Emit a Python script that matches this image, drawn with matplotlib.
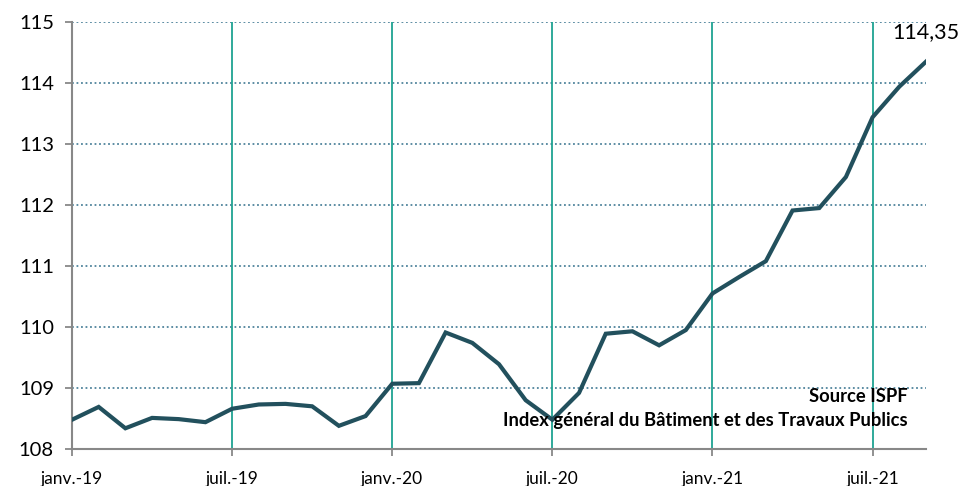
import numpy as np
import matplotlib.pyplot as plt

plt.rcParams['font.family'] = ['Lato', 'DejaVu Sans']

# monthly index, janv.-19 .. sept.-21
values = [108.48, 108.69, 108.34, 108.51, 108.49, 108.44,
          108.66, 108.73, 108.74, 108.70, 108.38, 108.54,
          109.07, 109.08, 109.91, 109.74, 109.39, 108.80,
          108.48, 108.92, 109.89, 109.93, 109.70, 109.95,
          110.55, 110.82, 111.08, 111.91, 111.95, 112.46,
          113.44, 113.94, 114.35]
tick_pos = [0, 6, 12, 18, 24, 30]
tick_labels = ["janv.-19", "juil.-19", "janv.-20", "juil.-20", "janv.-21", "juil.-21"]
yticks = [108, 109, 110, 111, 112, 113, 114, 115]

x = np.arange(len(values))

fig = plt.figure(figsize=(9.69, 4.86), dpi=100)
ax = fig.add_axes([0.0743, 0.0761, 0.8813, 0.8786])

for yv in yticks[1:]:
    ax.axhline(yv, color="#4f849c", ls=(0, (1, 1.5)), lw=1.3, zorder=1)
for xv in tick_pos[1:]:
    ax.axvline(xv, color="#1fa392", lw=1.3, zorder=1)

ax.plot(x, values, color="#22505d", lw=3, solid_joinstyle="miter", zorder=3)

ax.set_xlim(0, len(values) - 1)
ax.set_ylim(108, 115)
ax.set_xticks(tick_pos)
ax.set_xticklabels(tick_labels, fontsize=12.5)
ax.set_yticks(yticks)
ax.tick_params(axis="y", labelsize=14.5, length=5, color="#888888", width=1.3, pad=8)
ax.tick_params(axis="x", length=5, color="#888888", width=1.3, pad=11)

for s in ["top", "right"]:
    ax.spines[s].set_visible(False)
for s in ["left", "bottom"]:
    ax.spines[s].set_color("#888888")
    ax.spines[s].set_linewidth(1.5)

ax.text(len(values) - 1, 114.84, "114,35", fontsize=15.5,
        ha="center", va="center")
ax.text(0.979, 0.122, "Source ISPF", transform=ax.transAxes, fontsize=13.2,
        fontweight="bold", ha="right", va="center", zorder=4)
ax.text(0.979, 0.066, "Index général du Bâtiment et des Travaux Publics",
        transform=ax.transAxes, fontsize=13.2, fontweight="bold",
        ha="right", va="center", zorder=4)

fig.savefig("out.png", dpi=100)
